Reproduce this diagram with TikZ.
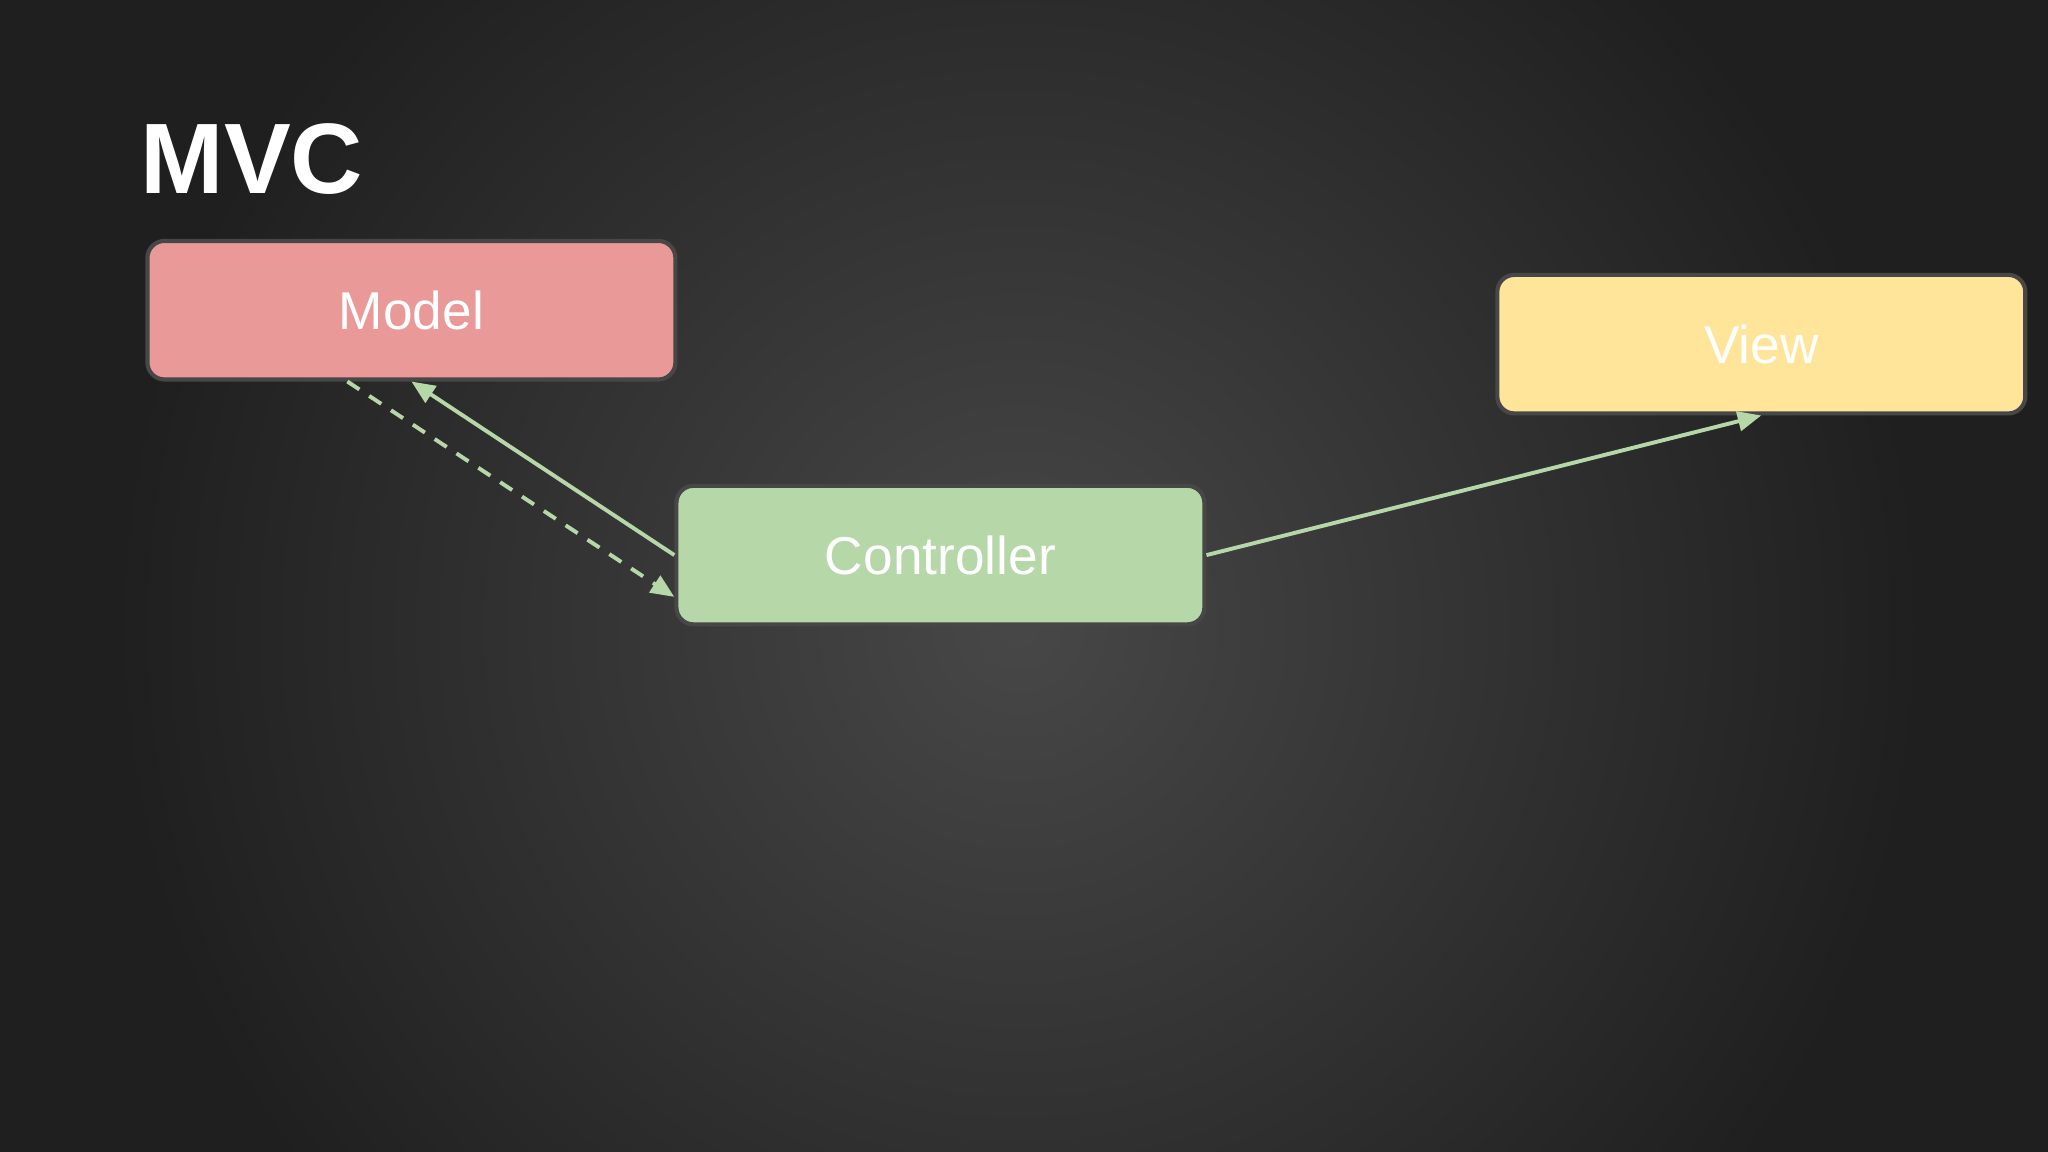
\documentclass[tikz,border=0pt]{standalone}
\usepackage{fontspec}
\setmainfont{Liberation Sans}
\usetikzlibrary{arrows.meta}
\definecolor{mred}{HTML}{EA9999}
\definecolor{myel}{HTML}{FFE599}
\definecolor{mgrn}{HTML}{B6D7A8}
\definecolor{bord}{HTML}{474747}
\begin{document}
\begin{tikzpicture}[x=0.01cm,y=-0.01cm,
  box/.style={draw=bord,line width=0.9pt,rounded corners=0.13cm,minimum width=4.04cm,minimum height=1.06cm,text=white,font=\fontsize{11.6}{14}\selectfont},
  conn/.style={draw=mgrn,line width=0.85pt,-{Triangle[length=0.18cm,width=0.15cm]}}]
\useasboundingbox (0,0) rectangle (1568,882);
\fill[black!88] (0,0) rectangle (1568,882);
\shade[inner color=black!72,outer color=black!88] (780,480) circle (700);
\node[anchor=base west,text=white,font=\bfseries\fontsize{21.8}{26}\selectfont,inner sep=0pt] (title) at (107,148) {MVC};
\node[box,fill=mred] (model) at (315,237.5) {Model};
\node[box,fill=myel] (view) at (1348.5,263.5) {View};
\node[box,fill=mgrn] (ctrl) at (720,425) {Controller};
\draw[conn] (ctrl.west) -- (model.south);
\draw[conn,dashed,dash pattern=on 0.11cm off 0.09cm] ([xshift=-0.49cm]model.south) -- ([yshift=-0.32cm]ctrl.west);
\draw[conn] (ctrl.east) -- (view.south);
\end{tikzpicture}
\end{document}
